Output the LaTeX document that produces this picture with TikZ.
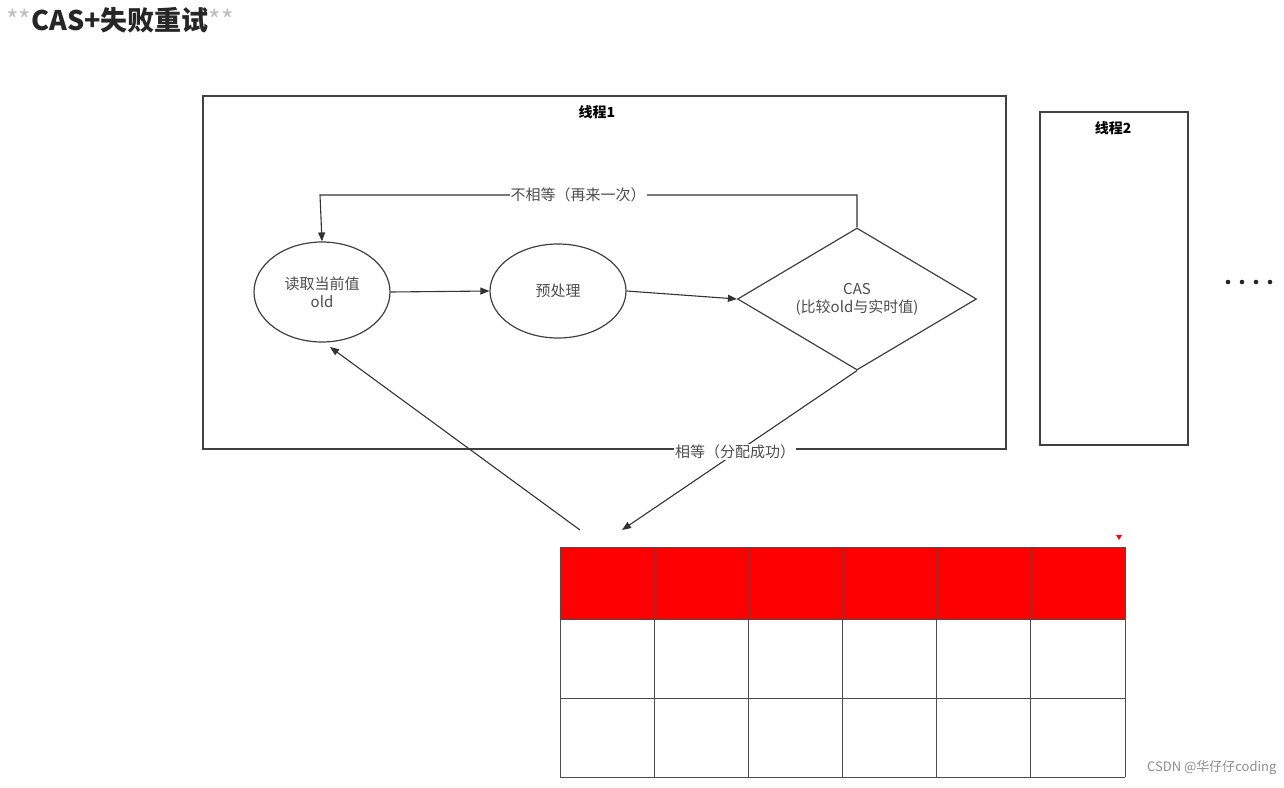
\documentclass[tikz,border=0pt]{standalone}
\usepackage{fontspec}
\setmainfont{Noto Sans CJK SC}
\usetikzlibrary{shapes.geometric,arrows.meta}
\begin{document}
\begin{tikzpicture}[x=1pt,y=-1pt,
  frame/.style={draw=black!75,line width=1.2pt},
  lbl/.style={font=\fontsize{15}{18}\selectfont,text=black!70},
  conn/.style={draw=black!80,line width=1.1pt,-{Triangle[length=9pt,width=7pt]}},
  cell/.style={draw=black!70,line width=1pt}]
\useasboundingbox (0,0) rectangle (1284,787);
\node[anchor=west,inner sep=0] (title) at (6,20) {\fontsize{27}{30}\selectfont\textcolor{black!25}{**}\textbf{\textcolor{black!85}{CAS+失败重试}}\textcolor{black!25}{**}};
\draw[frame] (203,96) rectangle (1006,449);
\node[font=\bfseries\fontsize{14}{16}\selectfont] (t1) at (597,112) {线程1};
\draw[frame] (1040,112) rectangle (1188,445);
\node[font=\bfseries\fontsize{14}{16}\selectfont] (t2) at (1113,128) {线程2};
\foreach \x in {1228,1242,1256,1270} \fill[black!85] (\x,282) circle (2.3);
\node[ellipse,frame,minimum width=136pt,minimum height=100pt,lbl,align=center] (rd) at (322,292) {读取当前值\\old};
\node[ellipse,frame,minimum width=136pt,minimum height=94pt,lbl] (pre) at (558,291) {预处理};
\node[diamond,frame,minimum width=239pt,minimum height=142pt,aspect=1.68,inner sep=0,lbl,align=center] (cas) at (857,299) {CAS\\(比较old与实时值)};
\draw[conn] (rd.east) -- (pre.west);
\draw[conn] (pre.east) -- (cas.west);
\coordinate (c1) at (857,195);
\coordinate (c2) at (320,195);
\draw[conn] (cas.north) -- (c1) -- (c2) -- (rd.north);
\node[lbl,fill=white,inner sep=1pt] (ne) at (578,195) {不相等（再来一次）};
\coordinate (gA) at (622,530);
\coordinate (gB) at (580,530);
\draw[conn] (cas.south) -- (gA);
\draw[conn] (gB) -- (330,347);
\node[lbl,fill=white,inner sep=1pt] (eq) at (735,452) {相等（分配成功）};
\fill[red] (560,547) rectangle (1125,619);
\foreach \i in {0,...,6} \draw[cell] ({560+\i*94.17},547) -- ({560+\i*94.17},777);
\foreach \y in {547,619,698,777} \draw[cell] (560,\y) -- (1125,\y);
\fill[red] (1116,535) -- (1122,535) -- (1119,540) -- cycle;
\node[anchor=east,text=black!45,font=\fontsize{13}{15}\selectfont] (wm) at (1280,768) {CSDN @华仔仔coding};
\end{tikzpicture}
\end{document}
